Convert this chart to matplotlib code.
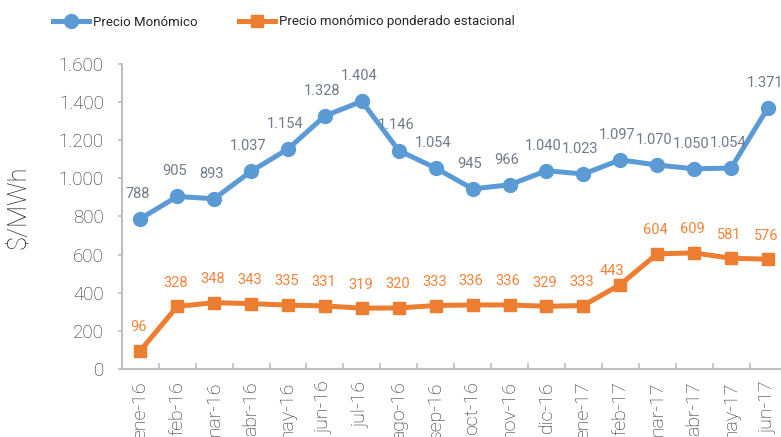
import numpy as np
import matplotlib
matplotlib.use("Agg")
import matplotlib.pyplot as plt

plt.rcParams['font.family'] = ['Roboto', 'DejaVu Sans']

months = ["ene-16", "feb-16", "mar-16", "abr-16", "may-16", "jun-16", "jul-16",
          "ago-16", "sep-16", "oct-16", "nov-16", "dic-16", "ene-17", "feb-17",
          "mar-17", "abr-17", "may-17", "jun-17"]
monomico = [788, 905, 893, 1037, 1154, 1328, 1404, 1146, 1054, 945, 966,
            1040, 1023, 1097, 1070, 1050, 1054, 1371]
estacional = [96, 328, 348, 343, 335, 331, 319, 320, 333, 336, 336, 329,
              333, 443, 604, 609, 581, 576]

blue = "#5B9BD5"
orange = "#ED7D31"
axis_gray = "#BFBFBF"
text_gray = "#262626"


def fmt(v):
    return f"{v:,}".replace(",", ".")


fig = plt.figure(figsize=(7.81, 4.37), dpi=100)
ax = fig.add_axes([0.156, 0.1556, 0.851, 0.698])

x = np.arange(len(months))
ax.plot(x, monomico, color=blue, lw=3.6, marker="o", ms=10,
        label="Precio Monómico", solid_joinstyle="round")
ax.plot(x, estacional, color=orange, lw=3.6, marker="s", ms=8.5,
        label="Precio monómico ponderado estacional")

for i, v in enumerate(monomico):
    ax.annotate(fmt(v), (i, v), xytext=(-2, 13), textcoords="offset points",
                ha="center", va="bottom", fontsize=10.5, color="#707B8B")
for i, v in enumerate(estacional):
    dx, dy = -1, 12
    if months[i] == "feb-17":
        dx, dy = -6, 5
    ax.annotate(fmt(v), (i, v), xytext=(dx, dy), textcoords="offset points",
                ha="center", va="bottom", fontsize=10.5, color="#F2843A")

ax.set_xlim(-0.5, len(months) - 0.5)
ax.set_ylim(0, 1600)
ax.set_yticks(np.arange(0, 1601, 200))
ax.set_yticklabels([fmt(v) for v in range(0, 1601, 200)])
ax.set_xticks(x)
ax.set_xticklabels(months, rotation=90)
ax.set_xticks(np.arange(-0.5, len(months), 1), minor=True)
ax.tick_params(axis="x", which="major", length=0, pad=9, labelsize=14,
               labelcolor=text_gray)
ax.tick_params(axis="x", which="minor", direction="in", length=4,
               color=axis_gray, width=1.2)
ax.tick_params(axis="y", length=3, color=axis_gray, width=1.2, labelsize=13.5,
               labelcolor=text_gray, pad=10)
for lab in ax.get_xticklabels() + ax.get_yticklabels():
    lab.set_fontweight("light")

for s in ["top", "right"]:
    ax.spines[s].set_visible(False)
for s in ["left", "bottom"]:
    ax.spines[s].set_color(axis_gray)
    ax.spines[s].set_linewidth(1.5)

ax.set_ylabel("$/MWh", fontsize=18.5, color=text_gray, fontweight="light")
ax.yaxis.set_label_coords(-0.136, 0.53)

leg = fig.legend(loc="center left", bbox_to_anchor=(53 / 781, 1 - 22 / 437),
                 ncol=2, frameon=False, borderpad=0, borderaxespad=0,
                 handlelength=2.7, handletextpad=0.3, columnspacing=3.2,
                 prop={"size": 9.5})
for t in leg.get_texts():
    t.set_color(text_gray)

fig.savefig("out.png", dpi=100)
